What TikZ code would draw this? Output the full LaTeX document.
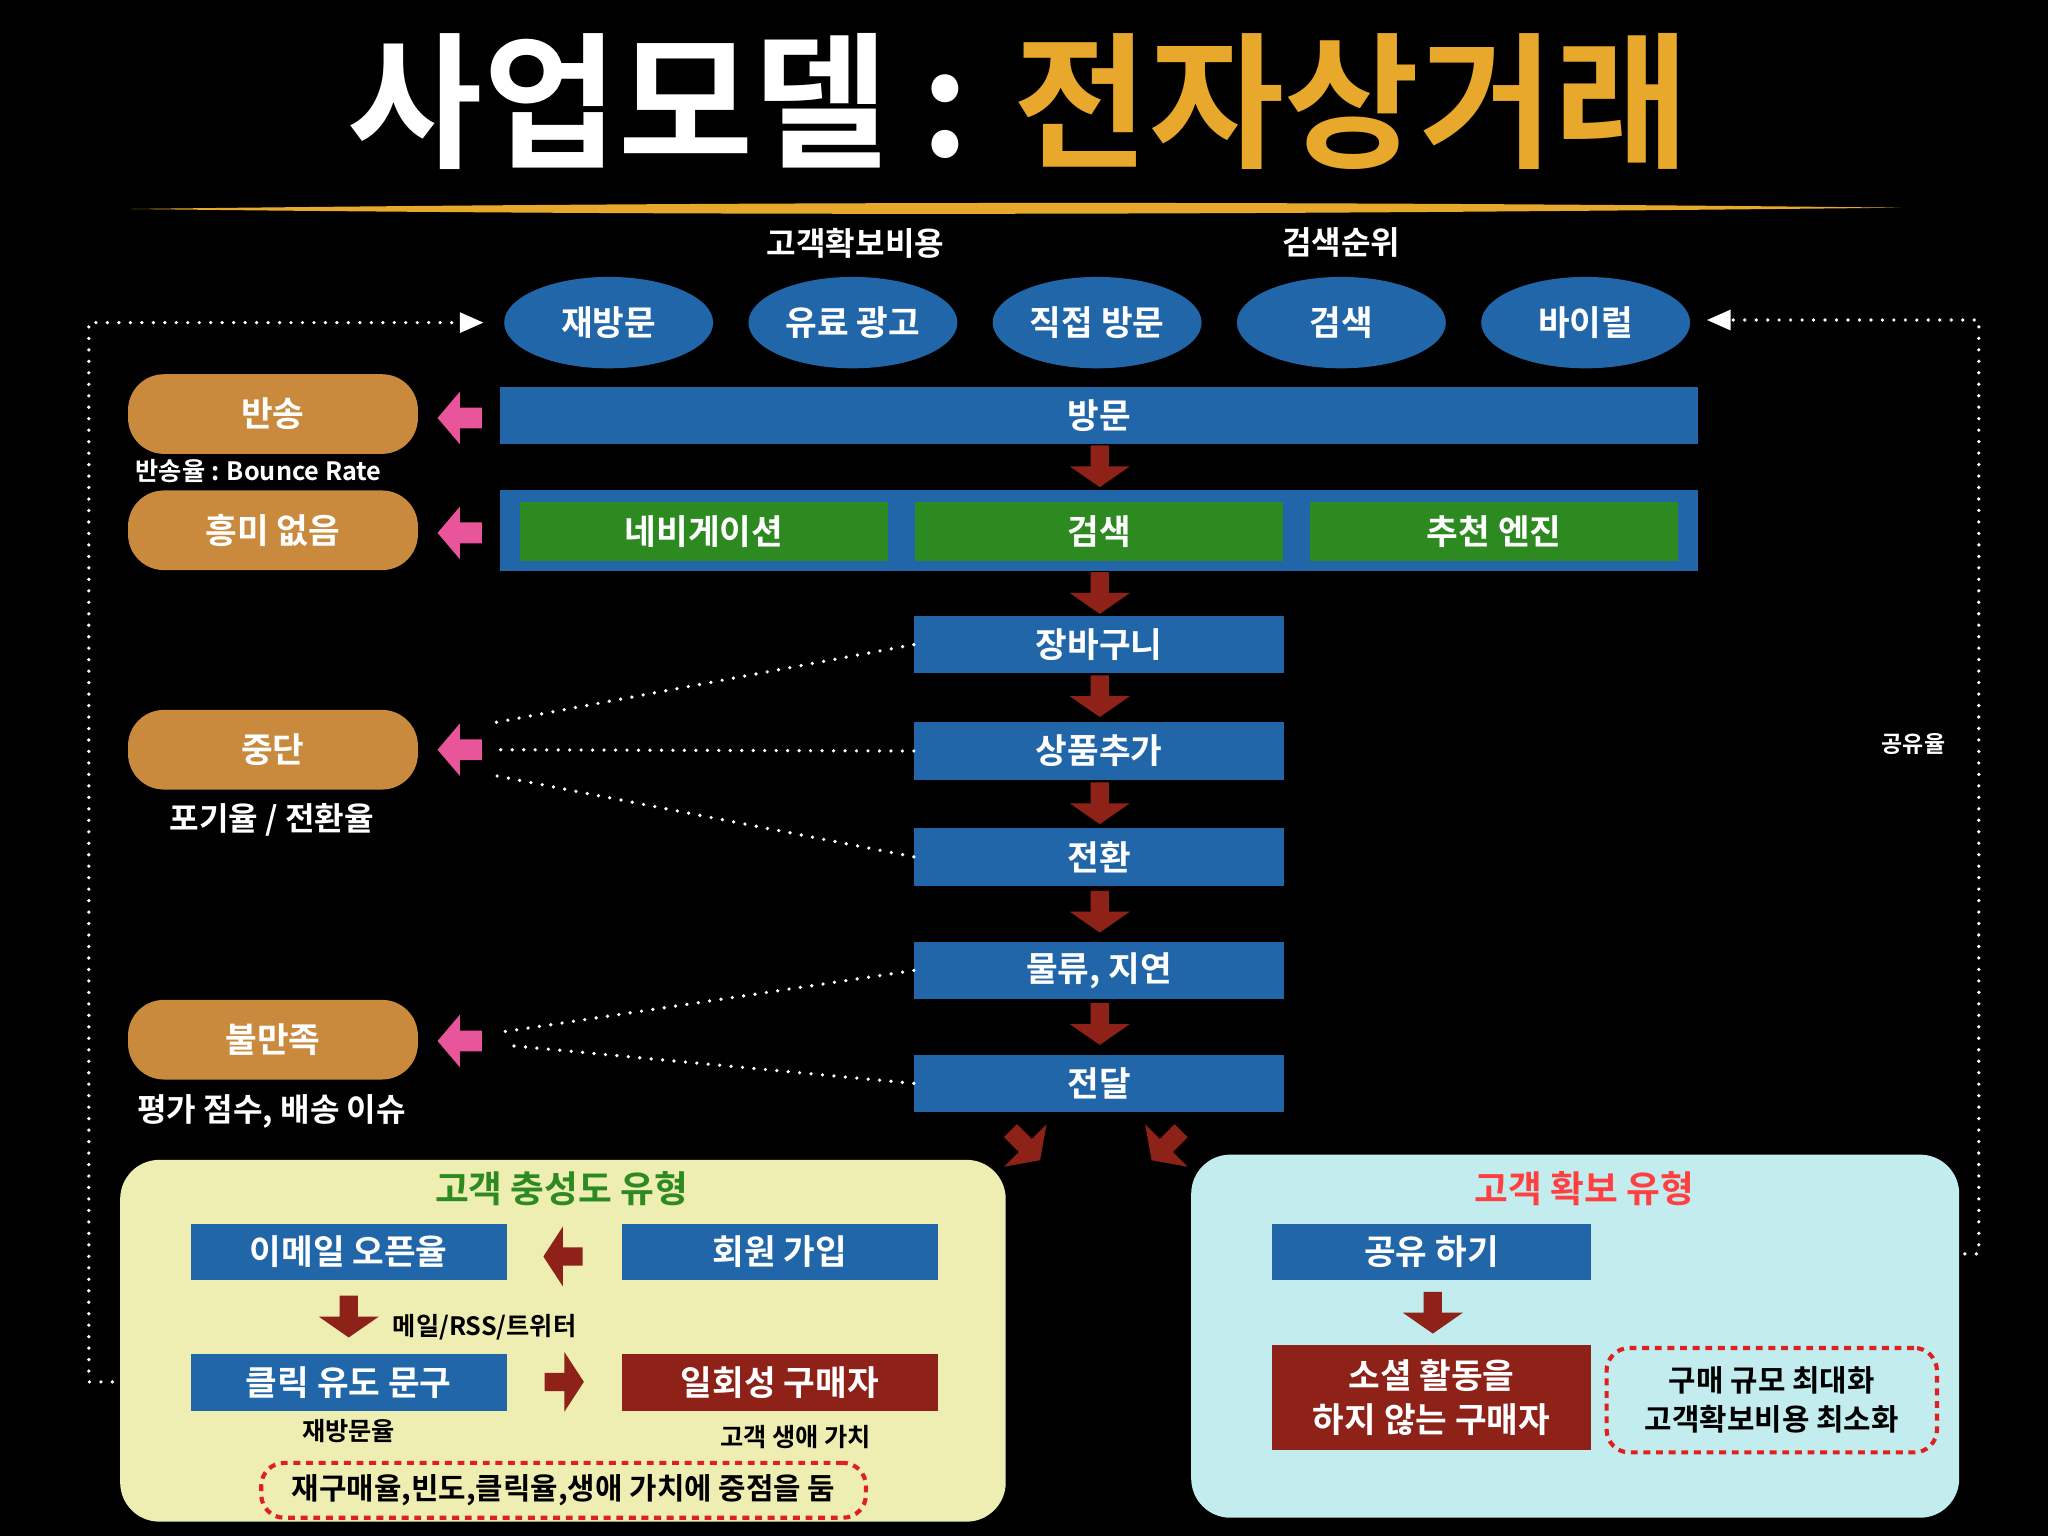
\documentclass[tikz,border=0pt]{standalone}
\usepackage{fontspec}
\setmainfont{Noto Sans CJK KR}[BoldFont={* Bold}]
\usetikzlibrary{shapes.geometric}
\definecolor{bblue}{HTML}{2066A8}
\definecolor{ggreen}{HTML}{2C8A20}
\definecolor{oorange}{HTML}{C98A3E}
\definecolor{arrred}{HTML}{8E2218}
\definecolor{ppink}{HTML}{E8559A}
\definecolor{ttl}{HTML}{E8A82C}
\definecolor{pyel}{HTML}{EEEDB2}
\definecolor{pcyan}{HTML}{C2ECEE}
\definecolor{dred}{HTML}{E02020}
\tikzset{
 box/.style={fill=bblue,text=white,font=\bfseries\fontsize{15}{18}\selectfont,inner sep=0pt},
 gbox/.style={fill=ggreen,text=white,font=\bfseries\fontsize{15}{18}\selectfont,minimum width=5.64cm,minimum height=0.9cm,inner sep=0pt},
 mbox/.style={box,minimum width=5.66cm,minimum height=0.88cm},
 pbox/.style={box,minimum width=4.84cm,minimum height=0.86cm},
 obox/.style={fill=oorange,rounded corners=0.55cm,text=white,font=\bfseries\fontsize{15}{18}\selectfont,minimum width=4.44cm,minimum height=1.22cm},
 ell/.style={ellipse,fill=bblue,text=white,font=\bfseries\fontsize{15}{18}\selectfont,minimum width=3.2cm,minimum height=1.4cm,inner sep=0pt},
 lbl/.style={text=white,font=\bfseries\fontsize{14}{17}\selectfont},
 slbl/.style={text=white,font=\bfseries\fontsize{11}{13}\selectfont},
 blbl/.style={text=black,font=\bfseries\fontsize{11}{13}\selectfont},
 dots/.style={white,line width=1.6pt,dash pattern=on 0pt off 5pt,line cap=round},
 darr/.pic={\fill[arrred] (-7,-16)--(7,-16)--(7,0)--(23,0)--(0,16)--(-23,0)--(-7,0)--cycle;},
 rarr/.pic={\fill[arrred] (-15,-7)--(0,-7)--(0,-23)--(15,0)--(0,23)--(0,7)--(-15,7)--cycle;},
 larr/.pic={\fill[arrred] (15,-7)--(0,-7)--(0,-23)--(-15,0)--(0,23)--(0,7)--(15,7)--cycle;},
 parr/.pic={\fill[ppink] (17,-8)--(0,-8)--(0,-20)--(-17,0)--(0,20)--(0,8)--(17,8)--cycle;},
}
\begin{document}
\begin{tikzpicture}[x=0.02cm,y=-0.02cm]
\fill[black] (0,0) rectangle (1568,1176);
\useasboundingbox (0,0) rectangle (1568,1176);
% title
\node (title) at (780,78) {\fontsize{64}{70}\selectfont\bfseries\color{white}사업모델 : \color{ttl}전자상거래};
\fill[ttl] (100,160) .. controls (600,154) and (1000,154) .. (1455,159) .. controls (1000,164) and (600,166) .. (100,160) -- cycle;
\node[lbl] (l1) at (655,186) {고객확보비용};
\node[lbl] (l2) at (1027,186) {검색순위};
% ellipses
\node[ell] (e1) at (466,247) {재방문};
\node[ell] (e2) at (653,247) {유료 광고};
\node[ell] (e3) at (840,247) {직접 방문};
\node[ell] (e4) at (1027,247) {검색};
\node[ell] (e5) at (1214,247) {바이럴};
% main bars
\node[box,minimum width=18.34cm,minimum height=0.88cm] (visit) at (841.5,318) {방문};
\node[fill=bblue,minimum width=18.34cm,minimum height=1.24cm,inner sep=0pt] (nav) at (841.5,406) {};
\node[gbox] (g1) at (539,407) {네비게이션};
\node[gbox] (g2) at (841.5,407) {검색};
\node[gbox] (g3) at (1144,407) {추천 엔진};
\node[mbox] (m1) at (841.5,493.5) {장바구니};
\node[mbox] (m2) at (841.5,575) {상품추가};
\node[mbox] (m3) at (841.5,656) {전환};
\node[mbox] (m4) at (841.5,743) {물류, 지연};
\node[mbox] (m5) at (841.5,829.5) {전달};
\foreach \y in {357,454,533,615,698,784} \pic at (842,\y) {darr};
\pic[rotate=45] at (785,877) {darr};
\pic[rotate=-45] at (893,877) {darr};
% left orange
\node[obox] (o1) at (209,317) {반송};
\node[obox] (o2) at (209,406) {흥미 없음};
\node[obox] (o3) at (209,574) {중단};
\node[obox] (o4) at (209,796) {불만족};
\node[slbl] (s1) at (198,361) {반송율 : Bounce Rate};
\node[lbl] (s2) at (208,628) {포기율 / 전환율};
\node[lbl] (s3) at (208,851) {평가 점수, 배송 이슈};
\foreach \y in {320,408,574,797} \pic at (352,\y) {parr};
\coordinate (c3) at (378,574);
\coordinate (c4) at (384,797);
\draw[dots] (m1.west) -- (380,553);
\draw[dots] (m2.west) -- (c3);
\draw[dots] (m3.west) -- (380,594);
\draw[dots] (m4.west) -- (385,790);
\draw[dots] (m5.west) -- (385,800);
% outer dotted loops
\coordinate (lt) at (68,247); \coordinate (lb) at (68,1058); \coordinate (le) at (130,1058);
\draw[dots] (le) -- (lb) -- (lt) -- (350,247);
\fill[white] (352,239)--(370,247)--(352,255)--cycle;
\coordinate (rt) at (1515,245); \coordinate (rb) at (1515,960);
\draw[dots] (1327,245) -- (rt) -- (rb) -- (1222,960);
\fill[white] (1325,237)--(1307,245)--(1325,253)--cycle;
\node[slbl,font=\bfseries\fontsize{10}{12}\selectfont] (share) at (1465,570) {공유율};
% left panel
\fill[pyel,rounded corners=0.6cm] (92,888) rectangle (770,1165);
\node[text=ggreen,font=\bfseries\fontsize{16}{19}\selectfont] (pt1) at (430,910) {고객 충성도 유형};
\node[pbox] (p1) at (267,958.5) {이메일 오픈율};
\node[pbox] (p2) at (597,958.5) {회원 가입};
\node[pbox] (p3) at (267,1058.5) {클릭 유도 문구};
\node[pbox,fill=arrred] (p4) at (597,1058.5) {일회성 구매자};
\pic at (431,962) {larr};
\pic at (267,1008) {darr};
\pic at (432,1058) {rarr};
\node[blbl] (b1) at (371,1016) {메일/RSS/트위터};
\node[blbl] (b2) at (267,1096) {재방문율};
\node[blbl] (b3) at (609,1100) {고객 생애 가치};
\node[draw=dred,line width=1.8pt,dash pattern=on 3pt off 2.5pt,rounded corners=0.35cm,minimum width=9.26cm,minimum height=0.84cm,blbl,font=\bfseries\fontsize{13}{15}\selectfont] (b4) at (431.5,1141) {재구매율,빈도,클릭율,생애 가치에 중점을 둠};
% right panel
\fill[pcyan,rounded corners=0.6cm] (912,884) rectangle (1500,1162);
\node[text=red!75!white,font=\bfseries\fontsize{16}{19}\selectfont] (pt2) at (1213,910) {고객 확보 유형};
\node[box,minimum width=4.88cm,minimum height=0.86cm] (q1) at (1096,958.5) {공유 하기};
\pic at (1097,1005) {darr};
\node[box,fill=arrred,minimum width=4.88cm,minimum height=1.6cm,align=center,font=\bfseries\fontsize{15}{19}\selectfont] (q2) at (1096,1070) {소셜 활동을\\하지 않는 구매자};
\node[draw=dred,line width=1.8pt,dash pattern=on 3pt off 2.5pt,rounded corners=0.35cm,minimum width=5.06cm,minimum height=1.6cm,align=center,blbl,font=\bfseries\fontsize{13}{17}\selectfont] (q3) at (1356.5,1072) {구매 규모 최대화\\고객확보비용 최소화};
\end{tikzpicture}
\end{document}
